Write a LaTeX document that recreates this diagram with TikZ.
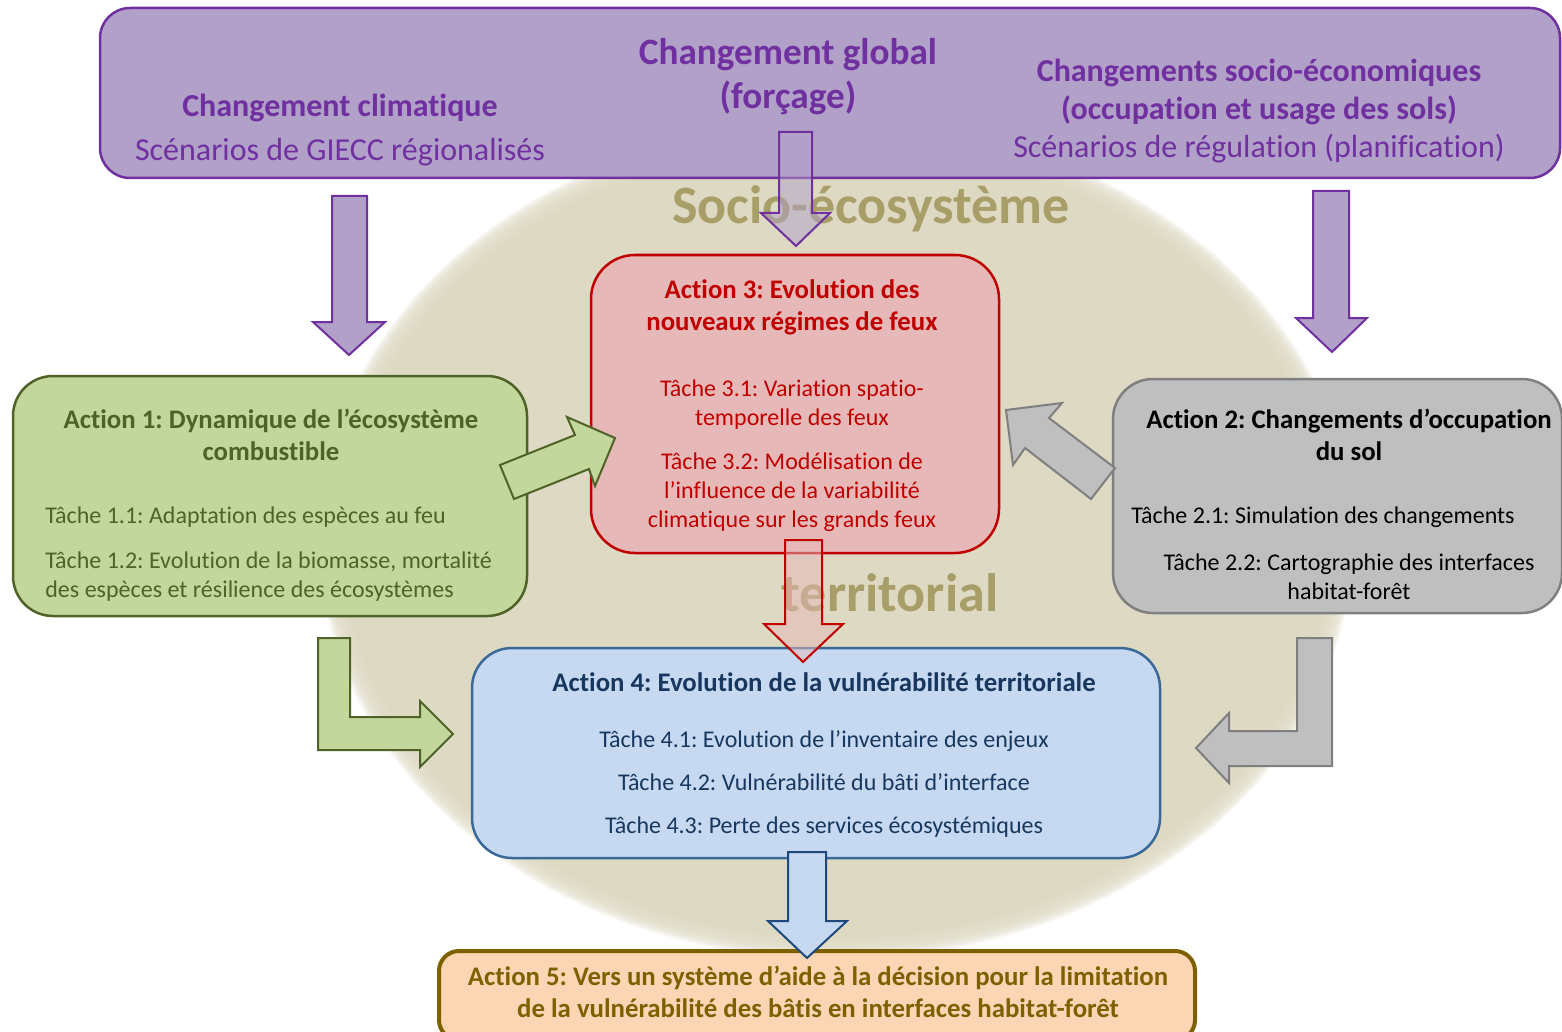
\documentclass[tikz,border=0pt]{standalone}
\usepackage{fontspec}
\setmainfont{Carlito}[Ligatures=NoCommon]
\frenchspacing
\definecolor{violetfill}{HTML}{B1A0C7}
\definecolor{violetline}{HTML}{7030A0}
\definecolor{vertfill}{HTML}{C3D69B}
\definecolor{vertline}{HTML}{4F6228}
\definecolor{rougefill}{HTML}{E6B9B8}
\definecolor{rougeline}{HTML}{C00000}
\definecolor{grisfill}{HTML}{BFBFBF}
\definecolor{grisline}{HTML}{7F7F7F}
\definecolor{bleufill}{HTML}{C6D9F1}
\definecolor{bleuline}{HTML}{3A6897}
\definecolor{bleutext}{HTML}{17375E}
\definecolor{bleuarrow}{HTML}{1F497D}
\definecolor{orangefill}{HTML}{FCD5B5}
\definecolor{orangeline}{HTML}{7F6000}
\definecolor{halo}{HTML}{DDD9C3}
\definecolor{halotext}{HTML}{A89E68}
\newcommand{\titre}{\fontsize{13.4pt}{16pt}\selectfont\bfseries}
\newcommand{\tache}{\fontsize{12pt}{14.5pt}\selectfont}
\begin{document}
\begin{tikzpicture}[x=0.5pt,y=-0.5pt]
        \tikzstyle{box}=[draw, line width=1.25pt, rounded corners=20pt, inner sep=0pt]
        \tikzstyle{txt}=[inner sep=0pt]
        \tikzstyle{blockarrow}=[draw, line width=1pt, line join=miter]
        \useasboundingbox (0,0) rectangle (1562,1032);
        % halo du socio-ecosysteme
        \foreach \k in {0,...,11}
          \fill[halo, opacity=0.25] (836,540) ellipse [x radius={(517-2*\k)*0.5pt}, y radius={(419-2*\k)*0.5pt}];
        \fill[halo] (836,540) ellipse [x radius=247pt, y radius=198pt];
        \node[txt, text=halotext, font=\fontsize{27pt}{34pt}\selectfont\bfseries] (socio) at (871,209) {Socio-écosystème};
        \node[txt, text=halotext, font=\fontsize{27pt}{34pt}\selectfont\bfseries] (terr) at (890,593) {territorial};
        % forcage
        \node[box, fill=violetfill, draw=violetline, rounded corners=15pt, minimum width=730pt, minimum height=85pt] (forcage) at (830,93) {};
        \node[txt, text=violetline, font=\fontsize{18.6pt}{22pt}\selectfont\bfseries, align=center] (global) at (788,77) {Changement global\\(forçage)};
        \node[txt, text=violetline, font=\fontsize{16pt}{19pt}\selectfont\bfseries] (clim) at (340,108) {Changement climatique};
        \node[txt, text=violetline, font=\fontsize{16pt}{19pt}\selectfont] (giecc) at (340,152) {Scénarios de GIECC régionalisés};
        \node[txt, text=violetline, font=\fontsize{16pt}{19pt}\selectfont, align=center] (socioeco) at (1259,111)
          {\textbf{Changements socio-économiques}\\\textbf{(occupation et usage des sols)}\\Scénarios de régulation (planification)};
        % actions
        \node[box, fill=vertfill, draw=vertline, minimum width=257pt, minimum height=120pt] (a1) at (270,496) {};
        \node[txt, text=vertline, font=\titre, align=center] (a1titre) at (271,435) {Action 1: Dynamique de l’écosystème\\combustible};
        \node[txt, text=vertline, font=\tache, anchor=west] (t11) at (45,517) {Tâche 1.1: Adaptation des espèces au feu};
        \node[txt, text=vertline, font=\tache, anchor=west, align=left] (t12) at (45,577) {Tâche 1.2: Evolution de la biomasse, mortalité\\des espèces et résilience des écosystèmes};
        \node[box, fill=grisfill, draw=grisline, minimum width=224.5pt, minimum height=117pt] (a2) at (1337.5,496) {};
        \node[txt, text=black, font=\titre, align=center] (a2titre) at (1349,435) {Action 2: Changements d’occupation\\du sol};
        \node[txt, text=black, font=\tache, anchor=west] (t21) at (1131,517) {Tâche 2.1: Simulation des changements};
        \node[txt, text=black, font=\tache, align=center] (t22) at (1349,577) {Tâche 2.2: Cartographie des interfaces\\habitat-forêt};
        \node[box, fill=rougefill, draw=rougeline, rounded corners=22pt, minimum width=204pt, minimum height=149pt] (a3) at (795,404) {};
        \node[txt, text=rougeline, font=\titre, align=center] (a3titre) at (792,307) {Action 3: Evolution des\\nouveaux régimes de feux};
        \node[txt, text=rougeline, font=\tache, align=center] (t31) at (792,404.5) {Tâche 3.1: Variation spatio-\\temporelle des feux};
        \node[txt, text=rougeline, font=\tache, align=center] (t32) at (792,492) {Tâche 3.2: Modélisation de\\l’influence de la variabilité\\climatique sur les grands feux};
        \node[box, fill=bleufill, draw=bleuline, minimum width=344pt, minimum height=105pt] (a4) at (816,753) {};
        \node[txt, text=bleutext, font=\titre] (a4titre) at (824,682) {Action 4: Evolution de la vulnérabilité territoriale};
        \node[txt, text=bleutext, font=\fontsize{12pt}{21.5pt}\selectfont, align=center] (t4) at (824,784)
          {Tâche 4.1: Evolution de l’inventaire des enjeux\\Tâche 4.2: Vulnérabilité du bâti d’interface\\Tâche 4.3: Perte des services écosystémiques};
        \node[box, fill=orangefill, draw=orangeline, line width=2pt, rounded corners=10pt, minimum width=378pt, minimum height=44.5pt] (a5) at (817,995.5) {};
        \node[txt, text=orangeline, font=\titre, align=center] (a5titre) at (818,991.5) {Action 5: Vers un système d’aide à la décision pour la limitation\\de la vulnérabilité des bâtis en interfaces habitat-forêt};
        % fleches
        \draw[blockarrow, fill=violetfill, draw=violetline] (332,196) -- (367,196) -- (367,322) -- (385,322) -- (349,355) -- (313,322) -- (332,322) -- cycle;
        \draw[blockarrow, fill=violetfill, fill opacity=0.5, draw=violetline] (779,132) -- (812,132) -- (812,213) -- (830,213) -- (796,246) -- (761,213) -- (779,213) -- cycle;
        \draw[blockarrow, fill=violetfill, draw=violetline] (1313,191) -- (1349,191) -- (1349,318) -- (1367,318) -- (1332,352) -- (1296,318) -- (1313,318) -- cycle;
        \draw[blockarrow, fill=vertfill, draw=vertline] (500,465) -- (575,435) -- (567,417) -- (615,438) -- (595,486) -- (589,469) -- (514,499) -- cycle;
        \draw[blockarrow, fill=grisfill, draw=grisline] (1006,410) -- (1062,403) -- (1049,418) -- (1115,468) -- (1091,499) -- (1025,448) -- (1013,465) -- cycle;
        \draw[blockarrow, fill=rougefill, fill opacity=0.5, draw=rougeline] (785,540) -- (822,540) -- (822,624) -- (843,624) -- (803,662) -- (764,624) -- (785,624) -- cycle;
        \draw[blockarrow, fill=vertfill, draw=vertline] (318,638) -- (350,638) -- (350,717) -- (420,717) -- (420,701) -- (453,734) -- (420,767) -- (420,750) -- (318,750) -- cycle;
        \draw[blockarrow, fill=grisfill, draw=grisline] (1297,638) -- (1332,638) -- (1332,766) -- (1229,766) -- (1229,783) -- (1196,748) -- (1229,713) -- (1229,731) -- (1297,731) -- cycle;
        \draw[blockarrow, fill=bleufill, draw=bleuarrow] (788,852) -- (826,852) -- (826,921) -- (847,921) -- (807,958) -- (768,921) -- (788,921) -- cycle;
\end{tikzpicture}
\end{document}
